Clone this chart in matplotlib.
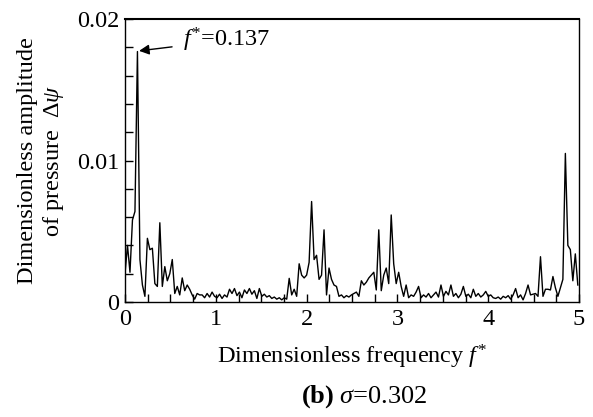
import numpy as np
import matplotlib
matplotlib.use("Agg")
import matplotlib.pyplot as plt
from matplotlib.ticker import MultipleLocator

plt.rcParams['font.family'] = ['Liberation Serif', 'DejaVu Serif']
plt.rcParams['mathtext.fontset'] = 'custom'
plt.rcParams['mathtext.rm'] = 'Liberation Serif'
plt.rcParams['mathtext.it'] = 'Liberation Serif:italic'
plt.rcParams['mathtext.bf'] = 'Liberation Serif:bold'

# frequency resolution of the spectrum
df = 0.0274
# amplitude values (x 1e-3) at f = i*df
amp_e3 = [
    2.0, 4.0, 2.1, 5.8, 6.4, 17.7, 3.0, 1.2, 0.4, 4.5,
    3.7, 3.8, 1.3, 1.1, 5.6, 1.1, 2.5, 1.5, 2.0, 3.0,
    0.6, 1.1, 0.5, 1.7, 0.8, 1.2, 0.9, 0.5, 0.2, 0.6,
    0.5, 0.5, 0.3, 0.6, 0.35, 0.7, 0.4, 0.3, 0.55, 0.25,
    0.5, 0.35, 0.9, 0.6, 0.95, 0.45, 0.7, 0.3, 0.85, 0.6,
    0.95, 0.55, 0.8, 0.25, 0.95, 0.4, 0.55, 0.35, 0.45, 0.25,
    0.35, 0.2, 0.3, 0.15, 0.3, 0.2, 1.67, 0.5, 0.9, 0.4,
    2.7, 1.9, 1.7, 1.9, 2.8, 7.1, 3.0, 3.3, 1.6, 1.9,
    5.1, 0.5, 2.4, 1.6, 1.2, 1.1, 0.4, 0.5, 0.3, 0.45,
    0.35, 0.5, 0.6, 0.7, 0.4, 1.5, 1.2, 1.4, 1.7, 1.9,
    2.1, 0.85, 5.1, 0.8, 1.9, 2.4, 1.3, 6.15, 2.7, 1.3,
    2.1, 1.1, 0.4, 1.2, 0.3, 0.5, 0.4, 0.7, 1.1, 0.3,
    0.5, 0.35, 0.6, 0.3, 0.5, 0.7, 0.35, 1.2, 0.4, 0.75,
    0.5, 1.2, 0.4, 0.6, 0.3, 0.55, 1.1, 0.4, 0.55, 0.3,
    0.9, 0.4, 0.6, 0.35, 0.5, 0.75, 0.4, 0.5, 0.3, 0.25,
    0.35, 0.2, 0.4, 0.3, 0.45, 0.2, 0.5, 0.95, 0.3, 0.5,
    0.15, 0.6, 1.2, 0.5, 0.55, 0.6, 0.4, 3.2, 0.4, 0.9,
    0.9, 0.85, 1.8, 1.0, 0.4, 1.0, 1.6, 10.5, 4.0, 3.7,
    1.5, 3.4, 1.2,
]
amp = np.array(amp_e3) * 1e-3
freq = np.arange(len(amp)) * df

yticks = [0, 0.01, 0.02]
ytick_labels = ['0', '0.01', '0.02']
peak_label = r"$f^{*}$=0.137"
xlabel = r"Dimensionless frequency $f^{*}$"
ylabel = "Dimensionless amplitude\nof pressure  $\\mathit{\\Delta\\psi}$"
caption = r"$\mathbf{(b)}$ $\sigma$=0.302"

FS = 17.5

fig = plt.figure(figsize=(5.93, 4.17), dpi=100)
ax = fig.add_axes([0.2108, 0.2758, 0.7656, 0.6786])
ax.plot(freq, amp, color='black', lw=1.0)

ax.set_xlim(0, 5)
ax.set_ylim(0, 0.02)
ax.xaxis.set_major_locator(MultipleLocator(1))
ax.xaxis.set_minor_locator(MultipleLocator(0.25))
ax.set_yticks(yticks)
ax.set_yticklabels(ytick_labels)
ax.yaxis.set_minor_locator(MultipleLocator(0.002))
ax.tick_params(which='both', direction='in', length=6, width=1, labelsize=FS)
ax.tick_params(axis='x', pad=5)
ax.tick_params(axis='y', pad=4)
for s in ax.spines.values():
    s.set_linewidth(1.0)
ax.spines['top'].set_linewidth(1.5)

ax.annotate(peak_label, xy=(0.155, 0.01775), xytext=(0.64, 0.0185),
            fontsize=FS, va='center', ha='left',
            arrowprops=dict(arrowstyle='-|>', color='black', lw=1.0,
                            mutation_scale=15, shrinkA=6, shrinkB=0))

ax.set_xlabel(xlabel, fontsize=FS, labelpad=9)
ax.set_ylabel(ylabel, fontsize=FS, labelpad=8, linespacing=1.15)
fig.text(0.615, 0.05, caption, fontsize=19, ha='center', va='center')

fig.savefig('out.png', dpi=100)
